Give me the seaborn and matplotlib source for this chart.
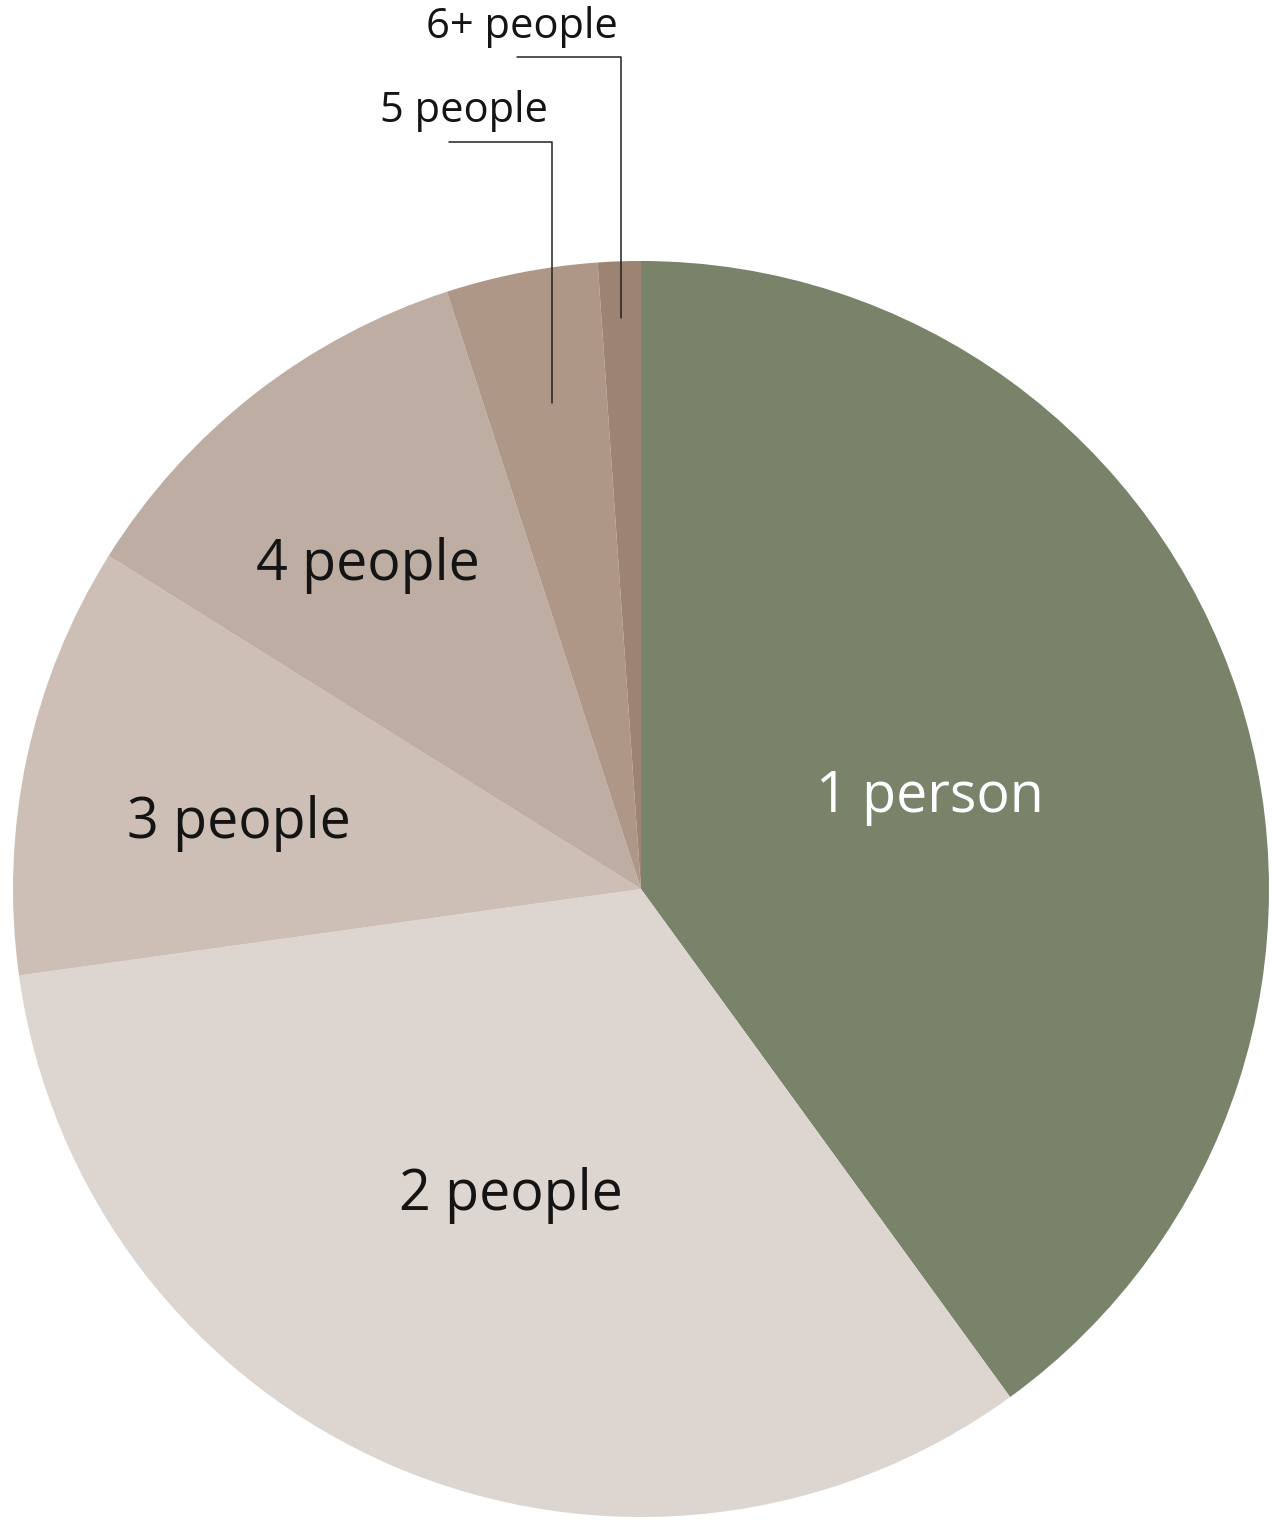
import matplotlib
matplotlib.use("Agg")
import matplotlib.pyplot as plt
import seaborn as sns

categories = ["1 person", "2 people", "3 people", "4 people", "5 people", "6+ people"]
shares = [40.0, 32.8, 11.1, 11.1, 3.9, 1.1]
colors = ["#78836A", "#DDD5CF", "#CDBFB6", "#BEADA2", "#AF9788", "#9D8472"]

sns.set_theme(style="white")
plt.rcParams["font.family"] = ["Open Sans", "DejaVu Sans"]

W, H = 1272, 1520
fig = plt.figure(figsize=(W / 100, H / 100), dpi=100)
ax = fig.add_axes([0, 0, 1, 1])
ax.set_xlim(0, W)
ax.set_ylim(0, H)
ax.set_aspect("equal")
ax.axis("off")

cx, cy, r = 641, H - 889, 628
ax.pie(shares, colors=colors, startangle=90, counterclock=False,
       center=(cx, cy), radius=r, wedgeprops=dict(linewidth=0))
ax.set_xlim(0, W)
ax.set_ylim(0, H)

big = 40
small = 30
txt = "#141414"
ax.text(930, H - 798, categories[0], fontsize=big, color="white", ha="center", va="center")
ax.text(511, H - 1196, categories[1], fontsize=big, color=txt, ha="center", va="center")
ax.text(239, H - 824, categories[2], fontsize=big, color=txt, ha="center", va="center")
ax.text(368, H - 566, categories[3], fontsize=big, color=txt, ha="center", va="center")
ax.text(464, H - 111, categories[4], fontsize=small, color=txt, ha="center", va="center")
ax.text(522, H - 27, categories[5], fontsize=small, color=txt, ha="center", va="center")

ax.plot([449, 552, 552], [H - 142, H - 142, H - 403], color="#222222", lw=1.1)
ax.plot([517, 621, 621], [H - 57, H - 57, H - 318], color="#222222", lw=1.1)

fig.savefig("out.png", dpi=100, facecolor="white")
